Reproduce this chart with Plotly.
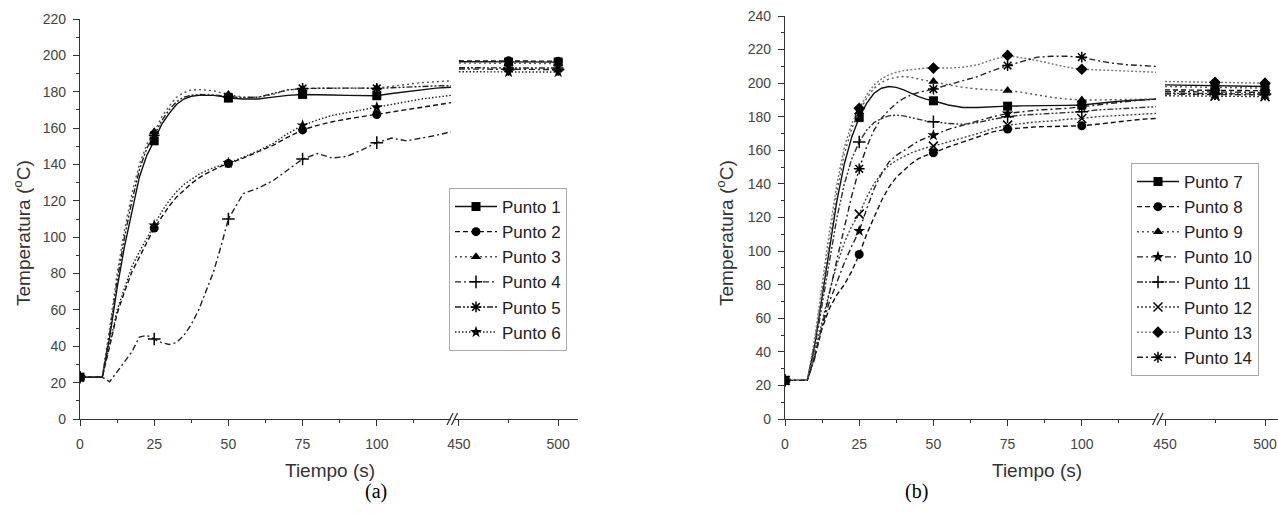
import plotly.graph_objects as go

W, H = 1278, 516

# ---------------- DATA ----------------
# Panel (a): time axis (s), first segment
t_a = [0, 7.5, 10, 12.5, 15, 17.5, 20, 22.5, 25, 27.5, 30, 32.5, 35, 37.5, 40, 42.5, 45, 47.5,
       50, 55, 60, 65, 70, 75, 80, 85, 90, 95, 100, 105, 110, 115, 120, 125]
a_p1 = [23, 23, 45, 72, 95, 115, 133, 145, 153, 162, 168, 173, 176, 177.5, 178, 178, 178, 177.5,
        176.5, 176, 176, 177, 178, 178.5, 178.5, 178.2, 178, 178, 177.8, 179, 180, 181, 182, 182.5]
a_p2 = [23, 23, 40, 58, 70, 81, 89, 97, 105, 111, 117, 122, 126, 129.5, 132.5, 135, 137, 139,
        140.5, 143.5, 147, 150.5, 155, 159, 161.5, 163.5, 165, 166.3, 167.5, 169, 170.5, 171.8, 173, 174]
a_p3 = [23, 23, 50, 80, 104, 124, 140, 151, 158, 166, 172, 177, 179.5, 181, 181.2, 181, 180.5, 179.5,
        178.5, 177, 177, 178.5, 181, 181.5, 182, 182, 182, 182, 182, 183, 184, 185, 185.5, 186]
a_p4 = [23, 23, 20.5, 26, 32, 37, 45, 46, 44, 42, 41, 42, 46, 52, 60, 70, 81, 95,
        110, 124, 127, 131, 137, 143, 146, 143.5, 144.5, 148, 152, 154.5, 153, 154.5, 156, 158]
a_p5 = [23, 23, 47, 76, 100, 120, 137, 149, 156, 164, 170, 174.5, 177, 178, 178.5, 178.5, 178.2, 177.8,
        177.2, 176.8, 177, 179, 181, 181.8, 182, 182, 182, 182, 181.8, 182.2, 182.6, 183, 183.2, 183.3]
a_p6 = [23, 23, 41, 60, 72, 84, 92, 99.5, 106.5, 114, 120, 125, 129, 132, 134.5, 136.5, 138.3, 139.5,
        140.8, 144, 147.5, 151.5, 157, 161.5, 164.5, 167, 168.5, 170, 171.5, 173, 174.5, 176, 177, 178]
# Panel (a): second segment (after the axis break)
t_a2 = [450, 475, 500]
a2_p1 = [196.5, 196.3, 196.3]
a2_p2 = [197.0, 197.0, 196.8]
a2_p3 = [195.8, 195.6, 195.5]
a2_p4 = [192.5, 192.3, 192.2]
a2_p5 = [193.2, 193.0, 193.0]
a2_p6 = [191.0, 190.8, 190.8]

# Panel (b): first segment
t_b = [0, 7.5, 10, 12.5, 15, 17.5, 20, 22.5, 25, 27.5, 30, 32.5, 35, 37.5, 40, 42.5, 45, 47.5,
       50, 55, 60, 65, 70, 75, 80, 85, 90, 95, 100, 105, 110, 115, 120, 125]
b_p7 = [23, 23, 44, 72, 102, 130, 152, 168, 179.5, 188, 194, 197, 198, 197.5, 196, 194, 192, 190.5,
        189.5, 187, 185.5, 185.5, 186, 186.3, 186.5, 186.5, 186.5, 186.8, 187, 188, 188.8, 189.5, 190, 190.5]
b_p8 = [23, 23, 37, 54, 66, 74, 80, 88, 98, 110, 120, 130, 138, 144, 148, 152, 155, 157,
        158.5, 162, 165, 168, 171, 172.7, 173.5, 174, 174.2, 174.4, 174.6, 175.5, 176.5, 177.5, 178.5, 179]
b_p9 = [23, 23, 46, 76, 108, 135, 158, 173, 183, 191, 197, 200.5, 202.5, 203.5, 204, 203.5, 202.5, 201.5,
        201, 199, 197.5, 196.5, 196, 195.6, 194.5, 193, 191.5, 190.5, 190, 190, 190.2, 190.3, 190.4, 190.5]
b_p10 = [23, 23, 38, 55, 70, 82, 93, 103, 112, 125, 137, 146, 153, 157, 160, 163, 165.5, 167.5,
         169, 172.5, 175, 177.5, 180, 182, 183, 184, 184.5, 185, 186, 187, 188, 189, 190, 190.5]
b_p11 = [23, 23, 42, 68, 95, 120, 140, 155, 165, 172, 176.5, 179, 180.5, 181, 180.5, 179.5, 178.5, 177.5,
         177, 176, 175.5, 176.5, 178.5, 180, 181, 181.5, 182, 182.5, 183, 184, 184.5, 185, 185.5, 186]
b_p12 = [23, 23, 40, 58, 76, 92, 105, 115, 122, 132, 140, 146.5, 151, 154, 156.5, 158.5, 160, 161.5,
         162.5, 165, 167.5, 170, 173, 175, 176, 177, 177.5, 178.5, 179, 180, 180.5, 181, 181.5, 182]
b_p13 = [23, 23, 48, 80, 112, 140, 162, 176, 185, 193, 199, 202.5, 205, 206.5, 207.5, 208, 208.5, 209,
         209, 209, 209.5, 211, 214, 216.5, 215, 213.5, 211.5, 209.5, 208.3, 208, 207.5, 207, 206.8, 206.5]
b_p14 = [23, 23, 36, 55, 75, 95, 115, 133, 149, 162, 172, 179, 184, 188, 191, 193, 194.5, 195.5,
         196.5, 199, 201.5, 204, 207.5, 210.5, 213, 215.5, 216, 216, 215.5, 213.5, 212, 211, 210.5, 210]
# Panel (b): second segment
t_b2 = [450, 475, 500]
b2_p7 = [199.0, 198.5, 198.0]
b2_p8 = [196.0, 195.8, 195.5]
b2_p9 = [198.0, 197.5, 197.0]
b2_p10 = [195.0, 194.8, 194.5]
b2_p11 = [194.0, 193.8, 193.5]
b2_p12 = [192.5, 192.3, 192.0]
b2_p13 = [201.0, 200.5, 200.0]
b2_p14 = [193.5, 193.2, 193.0]

names_a = ["Punto 1", "Punto 2", "Punto 3", "Punto 4", "Punto 5", "Punto 6"]
names_b = ["Punto 7", "Punto 8", "Punto 9", "Punto 10", "Punto 11", "Punto 12", "Punto 13", "Punto 14"]
marker_times = [0, 25, 50, 75, 100, 475, 500]

# ---------------- STYLES ----------------
DDD = "6px,2px,2px,2px,2px,2px"
styles_a = [
    dict(dash="solid", symbol="square", color="#111"),
    dict(dash="5px,3px", symbol="circle", color="#111"),
    dict(dash="2px,3px", symbol="triangle-up", color="#555"),
    dict(dash="6px,3px,2px,3px", symbol="cross-thin", color="#222"),
    dict(dash=DDD, symbol="asterisk-open", color="#222"),
    dict(dash="1.5px,2px", symbol="star", color="#222"),
]
styles_b = [
    dict(dash="solid", symbol="square", color="#111"),
    dict(dash="5px,3px", symbol="circle", color="#111"),
    dict(dash="2px,3px", symbol="triangle-up", color="#555"),
    dict(dash="6px,3px,2px,3px", symbol="star", color="#222"),
    dict(dash=DDD, symbol="cross-thin", color="#333"),
    dict(dash="2px,2px", symbol="x-thin", color="#444"),
    dict(dash="2px,2px", symbol="diamond", color="#777"),
    dict(dash="6px,3px,2px,3px", symbol="asterisk-open", color="#222"),
]

fig = go.Figure()


def add_series(name, t1, y1, t2, y2, st, xa1, xa2, ya, legend):
    thin = st["symbol"].endswith("-thin") or st["symbol"].endswith("-open")
    mk = dict(symbol=st["symbol"], size=9, color="#000",
              line=dict(color="#000", width=1.5 if thin else 0))
    for i, (tt, yy, xa) in enumerate([(t1, y1, xa1), (t2, y2, xa2)]):
        sel = [k for k, v in enumerate(tt) if v in marker_times]
        fig.add_trace(go.Scatter(
            x=tt, y=yy, name=name, mode="lines+markers",
            xaxis=xa, yaxis=ya, legend=legend, legendgroup=name,
            showlegend=(i == 0),
            line=dict(color=st["color"], width=1.4, dash=st["dash"]),
            marker=mk, selectedpoints=sel,
            selected=dict(marker=dict(opacity=1)),
            unselected=dict(marker=dict(opacity=0)),
            hoverinfo="x+y+name"))


series_a1 = [a_p1, a_p2, a_p3, a_p4, a_p5, a_p6]
series_a2 = [a2_p1, a2_p2, a2_p3, a2_p4, a2_p5, a2_p6]
for n, y1, y2, st in zip(names_a, series_a1, series_a2, styles_a):
    add_series(n, t_a, y1, t_a2, y2, st, "x", "x2", "y", "legend")

series_b1 = [b_p7, b_p8, b_p9, b_p10, b_p11, b_p12, b_p13, b_p14]
series_b2 = [b2_p7, b2_p8, b2_p9, b2_p10, b2_p11, b2_p12, b2_p13, b2_p14]
for n, y1, y2, st in zip(names_b, series_b1, series_b2, styles_b):
    add_series(n, t_b, y1, t_b2, y2, st, "x3", "x4", "y2", "legend2")

# ---------------- LAYOUT ----------------
FONT = "Liberation Sans, Arial, sans-serif"
tickfont = dict(family=FONT, size=14, color="#444")
axcommon = dict(showline=True, linecolor="#333", linewidth=1.3, showgrid=False, zeroline=False,
                automargin=False,
                ticks="outside", ticklen=6, tickwidth=1.2, tickcolor="#333", tickfont=tickfont)


def px_x(p):
    return p / W


def px_y(p):
    return 1 - p / H


fig.update_layout(
    width=W, height=H, margin=dict(l=0, r=0, t=0, b=0, autoexpand=False),
    paper_bgcolor="white", plot_bgcolor="white",
    font=dict(family=FONT, color="#222"),
    xaxis=dict(domain=[px_x(80), px_x(451)], range=[0, 125], anchor="y",
               tickvals=[0, 25, 50, 75, 100],
               minor=dict(tickvals=[12.5, 37.5, 62.5, 87.5, 112.5], ticklen=3, ticks="outside",
                          tickcolor="#333"), ticklabelstandoff=6, **axcommon),
    xaxis2=dict(domain=[px_x(454), px_x(578)], range=[447.5, 510], anchor="y",
                tickvals=[450, 500],
                minor=dict(tickvals=[475], ticklen=3, ticks="outside", tickcolor="#333"),
                ticklabelstandoff=6, **axcommon),
    yaxis=dict(domain=[px_y(419), px_y(19)], range=[0, 220], anchor="x", dtick=20,
               minor=dict(dtick=10, ticklen=3, ticks="outside", tickcolor="#333"),
               ticklabelstandoff=4, **axcommon),
    xaxis3=dict(domain=[px_x(785), px_x(1156)], range=[0, 125], anchor="y2",
                tickvals=[0, 25, 50, 75, 100],
                minor=dict(tickvals=[12.5, 37.5, 62.5, 87.5, 112.5], ticklen=3, ticks="outside",
                           tickcolor="#333"), ticklabelstandoff=6, **axcommon),
    xaxis4=dict(domain=[px_x(1160), 1.0], range=[447.5, 506.5], anchor="y2",
                tickvals=[450, 500],
                minor=dict(tickvals=[475], ticklen=3, ticks="outside", tickcolor="#333"),
                ticklabelstandoff=6, **axcommon),
    yaxis2=dict(domain=[px_y(419), px_y(16)], range=[0, 240], anchor="x3", dtick=20,
                minor=dict(dtick=10, ticklen=3, ticks="outside", tickcolor="#333"),
                ticklabelstandoff=4, **axcommon),
    legend=dict(x=px_x(449), y=px_y(188), xanchor="left", yanchor="top",
                bordercolor="#aaa", borderwidth=1, bgcolor="white",
                font=dict(family=FONT, size=17, color="#222"),
                itemwidth=42, tracegroupgap=0, traceorder="normal"),
    legend2=dict(x=px_x(1131), y=px_y(163), xanchor="left", yanchor="top",
                 bordercolor="#aaa", borderwidth=1, bgcolor="white",
                 font=dict(family=FONT, size=17, color="#222"),
                 itemwidth=42, tracegroupgap=0, traceorder="normal"),
    showlegend=True,
)

# axis titles and captions
ann = [
    dict(text="Temperatura (<sup>o</sup>C)", x=px_x(22), y=px_y(233), textangle=-90),
    dict(text="Temperatura (<sup>o</sup>C)", x=px_x(725), y=px_y(233), textangle=-90),
    dict(text="Tiempo (s)", x=px_x(330), y=px_y(470)),
    dict(text="Tiempo (s)", x=px_x(1037), y=px_y(470)),
]
for a in ann:
    fig.add_annotation(xref="paper", yref="paper", showarrow=False, xanchor="center",
                       yanchor="middle", font=dict(family=FONT, size=19, color="#333"), **a)
for txt, cx in [("(a)", 363), ("(b)", 930)]:
    fig.add_annotation(text=txt, x=px_x(cx), y=px_y(505), xref="paper", yref="paper",
                       showarrow=False, font=dict(family="Liberation Serif, Times New Roman, serif",
                                                  size=20, color="#000"))

# axis break marks
for bx in [452.5, 1158]:
    for dx in [-2.5, 2.0]:
        fig.add_shape(type="line", xref="paper", yref="paper",
                      x0=px_x(bx + dx - 3), y0=px_y(425), x1=px_x(bx + dx + 3), y1=px_y(413),
                      line=dict(color="#333", width=1.3))

fig.write_html("out.html")
